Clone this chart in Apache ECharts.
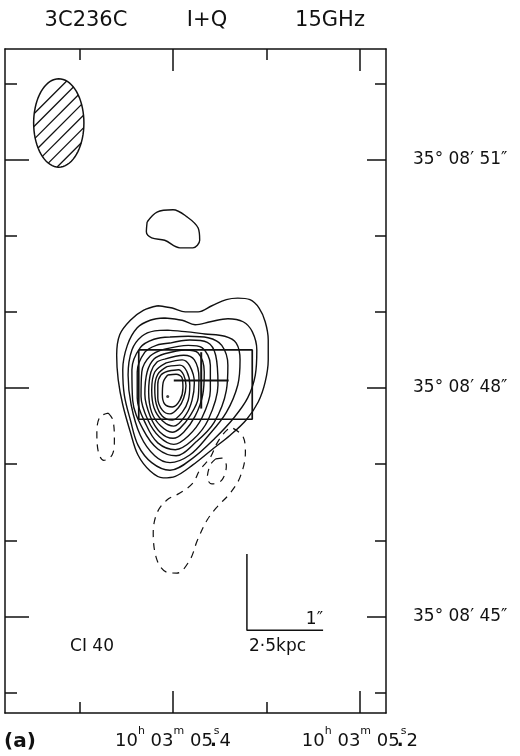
<!DOCTYPE html>
<html><head><meta charset="utf-8">
<script src="https://cdn.jsdelivr.net/npm/echarts@6.0.0/dist/echarts.min.js"></script>
<style>html,body{margin:0;padding:0;background:#fff}#c{width:520px;height:756px}</style>
</head><body><div id="c"></div>
<script>
// Coordinates: x = arcsec west of RA 10h03m05.4s, y = arcsec north of Dec 35°08'48"
const xRange = [-2.206, 2.796];
const yRange = [-4.267, 4.451];
const raTickValues = [0, 2.453];
const raTickLabels = ['10h03m05.4s', '10h03m05.2s'];
const raMinorTicks = [-1.2265, 1.2265];
const decTickValues = [3, 0, -3];
const decTickLabels = ['35° 08′ 51″', '35° 08′ 48″', '35° 08′ 45″'];
const decMinorTicks = [4, 2, 1, -1, -2, -4];

// positive contours, outermost first
const contour1 = [[-0.20,1.08],[-0.01,1.05],[0.16,1.00],[0.33,1.00],[0.51,1.08],[0.70,1.16],[0.85,1.18],[1.01,1.16],[1.13,1.05],[1.21,0.87],[1.25,0.63],[1.25,0.37],[1.21,0.08],[1.12,-0.18],[0.96,-0.42],[0.75,-0.62],[0.51,-0.81],[0.26,-1.01],[0.03,-1.16],[-0.13,-1.18],[-0.30,-1.09],[-0.46,-0.88],[-0.56,-0.58],[-0.66,-0.22],[-0.72,0.11],[-0.74,0.43],[-0.70,0.70],[-0.56,0.89],[-0.39,1.02]];
const contour2 = [[-0.11,0.92],[0.12,0.89],[0.29,0.83],[0.49,0.87],[0.72,0.91],[0.92,0.87],[1.04,0.74],[1.10,0.50],[1.08,0.17],[0.98,-0.13],[0.80,-0.39],[0.55,-0.66],[0.26,-0.92],[-0.04,-1.08],[-0.28,-0.98],[-0.46,-0.75],[-0.56,-0.42],[-0.64,-0.09],[-0.66,0.24],[-0.60,0.56],[-0.47,0.79],[-0.30,0.89]];
const contour3 = [[-0.07,0.76],[0.16,0.74],[0.42,0.71],[0.68,0.68],[0.83,0.59],[0.88,0.37],[0.85,0.04],[0.70,-0.32],[0.46,-0.63],[0.22,-0.88],[-0.04,-0.98],[-0.24,-0.89],[-0.43,-0.62],[-0.55,-0.22],[-0.59,0.17],[-0.54,0.50],[-0.41,0.68],[-0.24,0.75]];
const contour4 = [[-0.04,0.67],[0.20,0.68],[0.46,0.66],[0.64,0.56],[0.72,0.30],[0.70,-0.03],[0.54,-0.45],[0.30,-0.71],[0.04,-0.89],[-0.20,-0.80],[-0.39,-0.55],[-0.53,-0.16],[-0.54,0.24],[-0.43,0.53],[-0.25,0.64]];
const contour5 = [[-0.04,0.59],[0.22,0.63],[0.45,0.60],[0.56,0.43],[0.59,0.04],[0.46,-0.42],[0.26,-0.68],[0.03,-0.81],[-0.20,-0.72],[-0.35,-0.49],[-0.47,-0.13],[-0.47,0.21],[-0.37,0.47],[-0.22,0.56]];
const contour6 = [[-0.11,0.51],[0.20,0.56],[0.38,0.53],[0.49,0.30],[0.49,-0.03],[0.38,-0.39],[0.20,-0.63],[0.01,-0.74],[-0.18,-0.64],[-0.33,-0.42],[-0.42,-0.11],[-0.41,0.21],[-0.30,0.42]];
const contour7 = [[-0.11,0.45],[0.16,0.50],[0.33,0.46],[0.41,0.21],[0.39,-0.09],[0.29,-0.37],[0.14,-0.58],[0.00,-0.66],[-0.17,-0.58],[-0.30,-0.37],[-0.37,-0.08],[-0.34,0.21],[-0.25,0.38]];
const contour8 = [[-0.11,0.38],[0.14,0.43],[0.28,0.37],[0.34,0.13],[0.33,-0.13],[0.22,-0.37],[0.09,-0.53],[-0.01,-0.58],[-0.16,-0.50],[-0.28,-0.32],[-0.32,-0.05],[-0.29,0.21],[-0.21,0.34]];
const contour9 = [[-0.09,0.33],[0.12,0.37],[0.22,0.29],[0.28,0.07],[0.25,-0.16],[0.17,-0.35],[0.01,-0.50],[-0.14,-0.43],[-0.25,-0.26],[-0.28,-0.03],[-0.24,0.21]];
const contour10 = [[-0.08,0.28],[0.09,0.30],[0.18,0.22],[0.22,0.04],[0.20,-0.16],[0.12,-0.32],[-0.01,-0.42],[-0.14,-0.37],[-0.22,-0.21],[-0.24,0.00],[-0.20,0.18]];
const contour11 = [[-0.07,0.22],[0.07,0.24],[0.14,0.17],[0.17,0.03],[0.14,-0.13],[0.07,-0.26],[-0.04,-0.34],[-0.14,-0.29],[-0.20,-0.13],[-0.20,0.05],[-0.16,0.17]];
const contour12 = [[-0.07,0.17],[0.04,0.18],[0.12,0.13],[0.13,0.00],[0.09,-0.16],[-0.01,-0.25],[-0.11,-0.21],[-0.14,-0.09],[-0.13,0.07]];
const northBlob = [[-0.34,2.18],[-0.21,2.31],[0.00,2.34],[0.18,2.25],[0.33,2.10],[0.35,1.94],[0.26,1.84],[0.09,1.84],[-0.11,1.94],[-0.28,1.97],[-0.35,2.05]];

// negative (dashed) contours
const negWest = [[-0.85,-0.33],[-0.79,-0.42],[-0.77,-0.68],[-0.80,-0.88],[-0.91,-0.95],[-0.98,-0.84],[-1.00,-0.58],[-0.96,-0.38]];
const negSouth = [[0.79,-0.53],[0.92,-0.64],[0.95,-0.85],[0.88,-1.17],[0.75,-1.38],[0.58,-1.56],[0.45,-1.73],[0.32,-2.00],[0.22,-2.26],[0.05,-2.43],[-0.08,-2.42],[-0.21,-2.26],[-0.26,-1.90],[-0.21,-1.64],[-0.08,-1.47],[0.09,-1.38],[0.26,-1.25],[0.35,-1.08],[0.49,-0.91],[0.58,-0.72],[0.71,-0.55]];
const negInner = [[0.56,-0.93],[0.64,-0.92],[0.70,-1.02],[0.64,-1.21],[0.51,-1.26],[0.45,-1.18],[0.49,-1.01]];

const peak = [[-0.07,-0.11]];
const boxCorners = [[-0.45,0.50],[1.04,-0.41]];
const cross = [0.37, 0.10, 0.36, 0.37]; // x, y, half-width, half-height
const beam = [[-1.50, 3.48, 0.33, 0.58]]; // x, y, semi-minor (x), semi-major (y)
const scaleBar = [0.97, -3.18, 1.0]; // corner x, corner y, length (arcsec)

const solidContours = [contour1, contour2, contour3, contour4, contour5, contour6, contour7, contour8, contour9, contour10, contour11, contour12, northBlob];
const dashedContours = [negWest, negSouth, negInner];

const INK = '#111111';
const FONT = 'DejaVu Sans';
const close = c => c.concat([c[0]]);

function raLabel(v) {
  const i = raTickValues.findIndex(t => Math.abs(t - v) < 1e-6);
  if (i < 0) return '';
  const m = raTickLabels[i].match(/(\d+)h(\d+)m(\d+)\.(\d+)s/);
  return '{n|' + m[1] + '}{u|h}{n| ' + m[2] + '}{u|m}{n| ' + m[3] + '}{d|.}{u|s}{n|' + m[4] + '}';
}
function decLabel(v) {
  const i = decTickValues.findIndex(t => Math.abs(t - v) < 1e-6);
  return i < 0 ? '' : decTickLabels[i];
}

const lineAxis = {show: true, onZero: false, lineStyle: {color: INK, width: 1.5}};
function xAx(pos, major) {
  return {
    type: 'value', position: pos, min: xRange[0], max: xRange[1], gridIndex: 0,
    axisLine: major ? lineAxis : {show: false, onZero: false},
    axisTick: {show: true, inside: true, length: major ? 22 : 11, lineStyle: {color: INK, width: 1.5},
      customValues: major ? raTickValues : raMinorTicks},
    axisLabel: (pos === 'bottom' && major) ? {
      show: true, customValues: raTickValues, formatter: raLabel, margin: 13,
      rich: {
        n: {fontFamily: FONT, fontSize: 18, color: INK, lineHeight: 24, verticalAlign: 'bottom'},
        u: {fontFamily: FONT, fontSize: 11, color: INK, lineHeight: 14, verticalAlign: 'top'},
        d: {fontFamily: FONT, fontSize: 18, color: INK, lineHeight: 24, verticalAlign: 'bottom', fontWeight: 'bold', width: 1}
      }
    } : {show: false},
    splitLine: {show: false}
  };
}
function yAx(pos, major) {
  const left = pos === 'left';
  return {
    type: 'value', position: pos, min: yRange[0], max: yRange[1], gridIndex: 0,
    axisLine: major ? lineAxis : {show: false, onZero: false},
    axisTick: {show: true, inside: true, length: major ? (left ? 24 : 19) : (left ? 12 : 11), lineStyle: {color: INK, width: 1.5},
      customValues: major ? decTickValues : decMinorTicks},
    axisLabel: (!left && major) ? {
      show: true, customValues: decTickValues, formatter: decLabel, margin: 27,
      fontFamily: FONT, fontSize: 17, color: INK
    } : {show: false},
    splitLine: {show: false}
  };
}

const series = [];
solidContours.forEach(c => series.push({
  type: 'line', data: close(c), showSymbol: false, smooth: 0.35, silent: true,
  lineStyle: {color: INK, width: 1.4}, z: 3
}));
dashedContours.forEach(c => series.push({
  type: 'line', data: close(c), showSymbol: false, smooth: 0.35, silent: true,
  lineStyle: {color: INK, width: 1.2, type: [7, 6]}, z: 3
}));
// box
const [b0, b1] = boxCorners;
series.push({type: 'line', data: [[b0[0], b0[1]], [b1[0], b0[1]], [b1[0], b1[1]], [b0[0], b1[1]], [b0[0], b0[1]]],
  showSymbol: false, silent: true, lineStyle: {color: INK, width: 1.7}, z: 4});
// cross
series.push({type: 'line', data: [[cross[0] - cross[2], cross[1]], [cross[0] + cross[2], cross[1]]],
  showSymbol: false, silent: true, lineStyle: {color: INK, width: 2}, z: 4});
series.push({type: 'line', data: [[cross[0], cross[1] + cross[3]], [cross[0], cross[1] - cross[3]]],
  showSymbol: false, silent: true, lineStyle: {color: INK, width: 2}, z: 4});
// peak dot
series.push({type: 'scatter', data: peak, symbolSize: 3, itemStyle: {color: INK}, silent: true, z: 4});
// scale bar
series.push({type: 'line', data: [[scaleBar[0], scaleBar[1] + scaleBar[2]], [scaleBar[0], scaleBar[1]], [scaleBar[0] + scaleBar[2], scaleBar[1]]],
  showSymbol: false, silent: true, lineStyle: {color: INK, width: 1.5}, z: 4});
// beam ellipse with hatching
series.push({
  type: 'custom', data: beam, silent: true, z: 4,
  renderItem(params, api) {
    const c = api.coord([api.value(0), api.value(1)]);
    const s = api.size([api.value(2), api.value(3)]);
    const a = s[0], b = s[1];
    const pts = [];
    for (let i = 0; i < 72; i++) {
      const t = i / 72 * 2 * Math.PI;
      pts.push([c[0] + a * Math.cos(t), c[1] + b * Math.sin(t)]);
    }
    const children = [{type: 'polygon', shape: {points: pts}, style: {fill: '#fff', stroke: INK, lineWidth: 1.5}}];
    const r = Math.SQRT1_2, nx = r, ny = r, dx = r, dy = -r;
    const sp = 9, half = Math.sqrt((a * a + b * b) / 2);
    for (let k = Math.ceil(-half / sp); k * sp < half; k++) {
      const o = k * sp + 3;
      const A = dx * dx / (a * a) + dy * dy / (b * b);
      const B = 2 * (o * nx * dx / (a * a) + o * ny * dy / (b * b));
      const C = (o * nx) * (o * nx) / (a * a) + (o * ny) * (o * ny) / (b * b) - 1;
      const disc = B * B - 4 * A * C;
      if (disc <= 0) continue;
      const t1 = (-B - Math.sqrt(disc)) / (2 * A), t2 = (-B + Math.sqrt(disc)) / (2 * A);
      children.push({type: 'line', shape: {
        x1: c[0] + o * nx + t1 * dx, y1: c[1] + o * ny + t1 * dy,
        x2: c[0] + o * nx + t2 * dx, y2: c[1] + o * ny + t2 * dy},
        style: {stroke: INK, lineWidth: 1.3}});
    }
    return {type: 'group', children};
  }
});

function txt(text, x, y, size, align, weight) {
  return {type: 'text', x: x, y: y, silent: true, style: {
    text: text, fill: INK, font: (weight || 'normal') + ' ' + size + 'px "' + FONT + '"',
    align: align, verticalAlign: 'middle', textAlign: align, textVerticalAlign: 'middle'}};
}

const chart = echarts.init(document.getElementById('c'), null, {renderer: 'canvas'});
chart.setOption({
  animation: false,
  backgroundColor: '#fff',
  grid: {left: 5, right: 134, top: 49, bottom: 43, containLabel: false, outerBoundsMode: 'none'},
  xAxis: [xAx('bottom', true), xAx('bottom', false), xAx('top', true), xAx('top', false)],
  yAxis: [yAx('left', true), yAx('left', false), yAx('right', true), yAx('right', false)],
  series: series,
  graphic: [
    txt('3C236C', 86, 21, 21, 'center'),
    txt('I+Q', 207, 21, 21, 'center'),
    txt('15GHz', 330, 21, 21, 'center'),
    txt('CI 40', 92, 647, 17, 'center'),
    txt('1″', 323, 620, 17, 'right'),
    txt('2·5kpc', 249, 647, 17, 'left'),
    txt('(a)', 4, 742, 20, 'left', 'bold')
  ]
});
</script></body></html>
